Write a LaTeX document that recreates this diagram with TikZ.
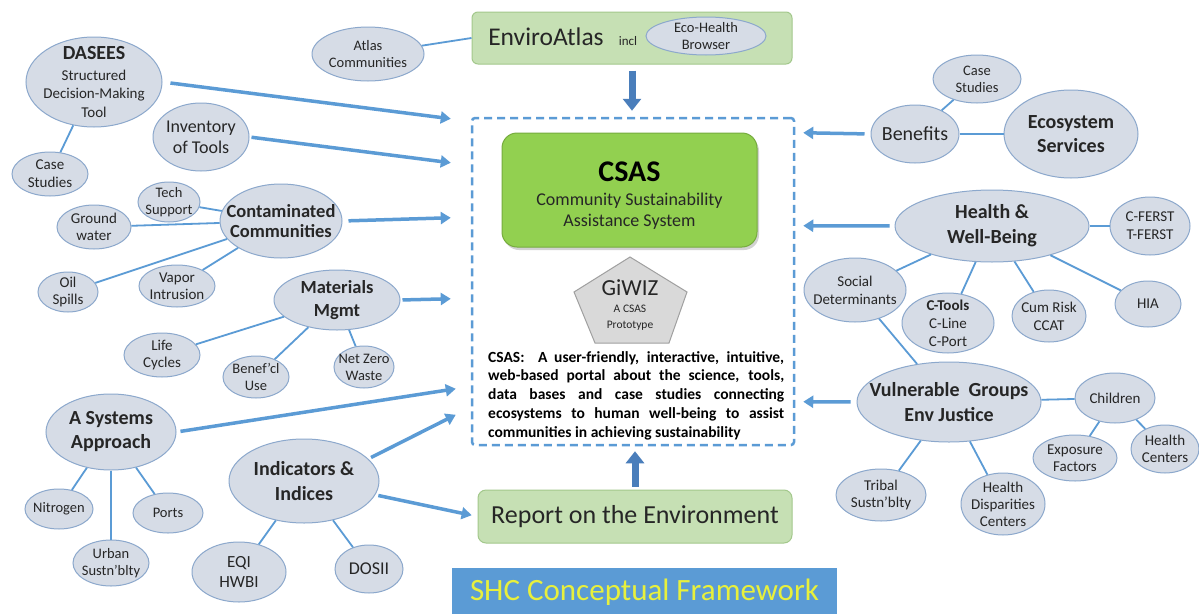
\documentclass[tikz,border=0pt]{standalone}
\usepackage{fontspec}
\setmainfont{Carlito}
\usetikzlibrary{shapes.geometric,arrows.meta,calc,shadows}

\definecolor{lblue}{RGB}{91,155,213}
\definecolor{dblue}{RGB}{74,126,187}
\definecolor{bubfill}{RGB}{214,220,230}
\definecolor{bubdraw}{RGB}{140,168,204}
\definecolor{txt}{RGB}{38,38,38}
\definecolor{lgreen}{RGB}{198,224,180}
\definecolor{lgreendraw}{RGB}{163,200,140}
\definecolor{csasgreen}{RGB}{146,208,80}
\definecolor{csasdraw}{RGB}{118,172,62}
\definecolor{giwizfill}{RGB}{217,217,217}
\definecolor{giwizdraw}{RGB}{160,160,160}
\definecolor{shcyellow}{RGB}{232,240,60}

\newcommand{\fsz}[2]{\fontsize{#1}{#2}\selectfont}

\tikzset{
  bub/.style={ellipse, draw=bubdraw, fill=bubfill, line width=1pt, inner sep=0pt},
  bubtxt/.style={align=center, text=txt, inner sep=0pt},
  link/.style={draw=lblue, line width=1.8pt},
  arr/.style={draw=lblue, line width=3.5pt, -{Triangle[length=10pt,width=12pt]}},
  bigarr/.style={draw=dblue, line width=7pt, -{Triangle[length=12pt,width=18pt]}},
  gbox/.style={draw=lgreendraw, fill=lgreen, line width=1pt, rounded corners=6pt},
  plaintxt/.style={text=txt, inner sep=0pt},
}

\newcommand{\bub}[7]{\node[bub, minimum width=#4*2, minimum height=#5*2,
  label={[bubtxt,font=#6]center:#7}] (#1) at (#2,#3) {};}

\begin{document}
\begin{tikzpicture}[x=1pt,y=-1pt]
\fill[white] (0,0) rectangle (1199,613);
\useasboundingbox (0,0) rectangle (1199,613);

% ---------- central frame ----------
\node[draw=lblue, line width=2.5pt, dash pattern=on 8pt off 5pt,
      minimum width=322, minimum height=327, rounded corners=3pt] (frame) at (633,281.5) {};

\node[draw=csasdraw, fill=csasgreen, rounded corners=15pt, minimum width=255,
      minimum height=114, line width=1pt,
      drop shadow={opacity=0.35, shadow xshift=2pt, shadow yshift=-3pt}] (csas) at (629.5,190) {};
\node[font=\bfseries\fsz{30}{32}, text=black, inner sep=0pt] (csasT) at (629.5,172) {CSAS};
\node[font=\fsz{18}{21}, plaintxt, align=center] (csasS) at (629.5,211.5) {Community Sustainability\\Assistance System};

\draw[fill=giwizfill, draw=giwizdraw, line width=1pt]
  (630,257) -- (687,292) -- (669,343) -- (595,343) -- (574,292) -- cycle;
\node[font=\fsz{23}{25}, plaintxt] (giwiz) at (630,288) {GiWIZ};
\node[font=\fsz{11.5}{16}, plaintxt, align=center] (proto) at (630,318) {A CSAS\\Prototype};

\node[anchor=north west, inner sep=0pt, align=left, font=\bfseries\fsz{15.5}{18.75}, text=black] (desc) at (488,351)
 {\makebox[296pt][s]{CSAS:\ \ A user-friendly, interactive, intuitive,}\\
  \makebox[296pt][s]{web-based portal about the science, tools,}\\
  \makebox[296pt][s]{data bases and case studies connecting}\\
  \makebox[296pt][s]{ecosystems to human well-being to assist}\\
  communities in achieving sustainability};

% ---------- top / bottom boxes ----------
\node[gbox, minimum width=320, minimum height=52] (enviro) at (632,38) {};
\node[font=\fsz{25.5}{28}, plaintxt] (envtxt) at (546,37) {EnviroAtlas};
\node[font=\fsz{13}{15}, plaintxt] (incl) at (628,41) {incl};
\bub{ecoh}{706}{36}{60}{19}{\fsz{14.5}{16.5}}{Eco-Health\\Browser}

\node[gbox, rounded corners=8pt, minimum width=314, minimum height=53,
      font=\fsz{26}{28}, text=txt] (report) at (635,516.5) {Report on the Environment};

\node[fill=lblue, minimum width=385, minimum height=48, inner sep=0pt,
      font=\fsz{31}{33}, text=shcyellow] (shc) at (644.5,592) {SHC Conceptual Framework};

% ---------- left bubbles ----------
\bub{dasees}{94}{82}{68}{45}{\fsz{15}{18.5}}{{\bfseries\fsz{20}{22}DASEES}\\[2pt]Structured\\Decision-Making\\Tool}
\bub{atlas}{368}{54}{56}{27}{\fsz{14.5}{16.5}}{Atlas\\Communities}
\bub{csa}{50}{174}{38}{22}{\fsz{15}{18}}{Case\\Studies}
\bub{inv}{201}{137}{48}{34}{\fsz{18}{21}}{Inventory\\of Tools}
\bub{tech}{169}{202}{31}{20}{\fsz{14.5}{16.5}}{Tech\\Support}
\bub{cont}{281}{221}{61}{37}{\bfseries\fsz{18.5}{20.5}}{Contaminated\\Communities}
\bub{ground}{94}{227}{37}{22}{\fsz{15}{17}}{Ground\\water}
\bub{oil}{68}{292}{30}{20}{\fsz{15}{17}}{Oil\\Spills}
\bub{vapor}{177}{286}{38}{21}{\fsz{15}{17}}{Vapor\\Intrusion}
\bub{mat}{337}{300}{63}{30}{\bfseries\fsz{18.5}{23}}{Materials\\Mgmt}
\bub{life}{162}{355}{38}{22}{\fsz{15}{17}}{Life\\Cycles}
\bub{benef}{256}{377}{33}{21}{\fsz{14.5}{17}}{Benef'cl\\Use}
\bub{netzero}{364}{367}{30}{21}{\fsz{14.5}{17}}{Net Zero\\Waste}
\bub{sys}{111}{432}{65}{38}{\bfseries\fsz{20}{24}}{A Systems\\Approach}
\bub{nitro}{59}{509}{34}{20}{\fsz{14.5}{17}}{Nitrogen}
\bub{urban}{111}{563}{38}{23}{\fsz{14.5}{17}}{Urban\\Sustn'blty}
\bub{ports}{168}{513}{35}{20}{\fsz{14.5}{17}}{Ports}
\bub{ind}{304}{481}{75}{42}{\bfseries\fsz{20}{25}}{Indicators \&\\Indices}
\bub{eqi}{239}{572}{47}{30}{\fsz{17}{20}}{EQI\\HWBI}
\bub{dosii}{369}{569}{34}{24}{\fsz{18}{20}}{DOSII}

% ---------- right bubbles ----------
\bub{csb}{977}{79}{44}{24}{\fsz{14.5}{17}}{Case\\Studies}
\bub{benefits}{915}{134}{44}{29}{\fsz{20}{24}}{Benefits}
\bub{eco}{1071}{134}{67}{44}{\bfseries\fsz{20}{24}}{Ecosystem\\Services}
\bub{health}{992}{226}{97}{36}{\bfseries\fsz{20}{25}}{Health \&\\Well-Being}
\bub{ferst}{1150}{226}{40}{29}{\fsz{15}{18}}{C-FERST\\T-FERST}
\bub{social}{855}{290}{51}{32}{\fsz{15}{18}}{Social\\Determinants}
\bub{ctools}{948}{323}{46}{30}{\fsz{15}{18}}{\textbf{C-Tools}\\C-Line\\C-Port}
\bub{cum}{1049}{316}{37}{26}{\fsz{15}{18}}{Cum Risk\\CCAT}
\bub{hia}{1148}{304}{33}{23}{\fsz{15}{18}}{HIA}
\bub{vuln}{949}{402}{92}{40}{\bfseries\fsz{20}{25}}{Vulnerable\ \ Groups\\Env Justice}
\bub{children}{1115}{398}{40}{25}{\fsz{15}{18}}{Children}
\bub{expo}{1075}{458}{42}{23}{\fsz{15}{17}}{Exposure\\Factors}
\bub{hcent}{1165}{449}{34}{24}{\fsz{15}{17}}{Health\\Centers}
\bub{tribal}{881}{495}{45}{26}{\fsz{15}{17}}{Tribal\\Sustn'blty}
\bub{hdc}{1003}{504}{42}{31}{\fsz{15}{17}}{Health\\Disparities\\Centers}

% ---------- thin links ----------
\draw[link] (atlas) -- (enviro.west);
\draw[link] (dasees) -- (csa);
\draw[link] (tech) -- (cont);
\draw[link] (ground) -- (cont);
\draw[link] (oil) -- (cont);
\draw[link] (vapor) -- (cont);
\draw[link] (life) -- (mat);
\draw[link] (benef) -- (mat);
\draw[link] (netzero) -- (mat);
\draw[link] (sys) -- (nitro);
\draw[link] (sys) -- (urban);
\draw[link] (sys) -- (ports);
\draw[link] (ind) -- (eqi);
\draw[link] (ind) -- (dosii);
\draw[link] (csb) -- (benefits);
\draw[link] (benefits) -- (eco);
\draw[link] (health) -- (ferst);
\draw[link] (health) -- (social);
\draw[link] (health) -- (ctools);
\draw[link] (health) -- (cum);
\draw[link] (health) -- (hia);
\draw[link] (social) -- (vuln);
\draw[link] (vuln) -- (children);
\draw[link] (vuln) -- (tribal);
\draw[link] (vuln) -- (hdc);
\draw[link] (children) -- (expo);
\draw[link] (children) -- (hcent);

% ---------- arrows ----------
\draw[arr, shorten <=8pt] (dasees.east) -- ($(frame.north west)+(-20,2)$);
\draw[arr, shorten <=2pt] (inv.east) -- ($(frame.north west)+(-20,46)$);
\draw[arr, shorten <=6pt] (cont.east) -- ($(frame.north west)+(-20,101)$);
\draw[arr, shorten <=2pt] (mat.east) -- ($(frame.north west)+(-20,182)$);
\draw[arr, shorten <=4pt] (sys.east) -- ($(frame.north west)+(-15,272)$);
\draw[arr, shorten <=3pt] (ind.19) -- ($(frame.north west)+(-15,298)$);
\draw[arr, shorten <=3pt, shorten >=6pt] (ind.-11) -- (report.west);
\draw[arr, shorten <=6pt] (benefits.west) -- ($(frame.north east)+(8,16)$);
\draw[arr, shorten <=5pt] (health.west) -- ($(frame.north east)+(8,109)$);
\draw[arr, shorten <=6pt] (vuln.west) -- ($(frame.north east)+(8,285)$);
\draw[bigarr, shorten <=6pt, shorten >=6pt] (enviro.south) -- (enviro.south |- frame.north);
\draw[bigarr, shorten <=3pt, shorten >=5pt] (report.north) -- (report.north |- frame.south);
\end{tikzpicture}
\end{document}
